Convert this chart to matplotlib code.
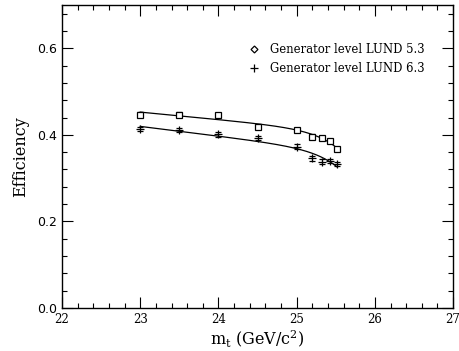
import numpy as np
import matplotlib
matplotlib.use("Agg")
import matplotlib.pyplot as plt
from matplotlib.lines import Line2D

plt.rcParams['font.family'] = ['DejaVu Serif']
plt.rcParams['mathtext.fontset'] = 'dejavuserif'

# data
mt_values = [23.0, 23.5, 24.0, 24.5, 25.0, 25.2, 25.33, 25.42, 25.52]
eff_lund53 = [0.447, 0.447, 0.445, 0.419, 0.411, 0.396, 0.393, 0.386, 0.367]
err_lund53 = [0.005, 0.005, 0.006, 0.005, 0.005, 0.005, 0.005, 0.005, 0.005]
eff_lund63 = [0.413, 0.411, 0.401, 0.392, 0.373, 0.346, 0.338, 0.340, 0.332]
err_lund63 = [0.005, 0.005, 0.005, 0.005, 0.005, 0.006, 0.006, 0.005, 0.005]
labels = ["Generator level LUND 5.3", "Generator level LUND 6.3"]

fig = plt.figure(figsize=(4.6, 3.51), dpi=100)
ax = fig.add_axes([0.1348, 0.1225, 0.985 - 0.1348, 0.9858 - 0.1225])

x = np.array(mt_values)
xs = np.linspace(x.min(), x.max(), 200)

def basis(v):
    v = np.asarray(v)
    return np.column_stack([np.ones_like(v), v, np.exp((v - 25.6) / 0.3)])

for eff, err, mk in [(eff_lund53, err_lund53, 's'), (eff_lund63, err_lund63, '+')]:
    y = np.array(eff)
    ax.errorbar(x, y, yerr=err, fmt=mk, color='black', mfc='white' if mk == 's' else 'black',
                ms=4 if mk == 's' else 6, mew=0.9, elinewidth=0.8, capsize=2.5, capthick=0.8)
    coef, *_ = np.linalg.lstsq(basis(x), y, rcond=None)
    ax.plot(xs, basis(xs) @ coef, color='black', lw=0.9)

ax.set_xlim(22, 27)
ax.set_ylim(0, 0.7)
ax.set_xticks([22, 23, 24, 25, 26, 27])
ax.set_xticks(np.arange(22, 27.01, 0.2), minor=True)
ax.set_yticks([0.0, 0.2, 0.4, 0.6])
ax.set_yticks(np.arange(0, 0.701, 0.04), minor=True)
ax.set_yticklabels(['0.0', '0.2', '0.4', '0.6'], fontfamily='DejaVu Sans', fontsize=9)
ax.set_xticklabels(['22', '23', '24', '25', '26', '27'], fontsize=8.5)
ax.tick_params(which='both', direction='in', top=True, right=True, width=0.8)
ax.tick_params(which='major', length=8)
ax.tick_params(which='minor', length=3.5)
for s in ax.spines.values():
    s.set_linewidth(1.0)

ax.set_ylabel('Efficiency', fontsize=11.5, labelpad=6)
ax.set_xlabel(r'm$_\mathregular{t}$ (GeV/c$^2$)', fontsize=11.5, labelpad=2)

handles = [Line2D([], [], marker='D', ls='none', color='black', mfc='white', ms=3.5, mew=0.9),
           Line2D([], [], marker='+', ls='none', color='black', ms=6, mew=0.9)]
ax.legend(handles, labels, loc='upper right', bbox_to_anchor=(0.955, 0.91), frameon=False,
          fontsize=8.4, handletextpad=0.8, labelspacing=0.5, handlelength=1.2)

fig.savefig('out.png', dpi=100)
